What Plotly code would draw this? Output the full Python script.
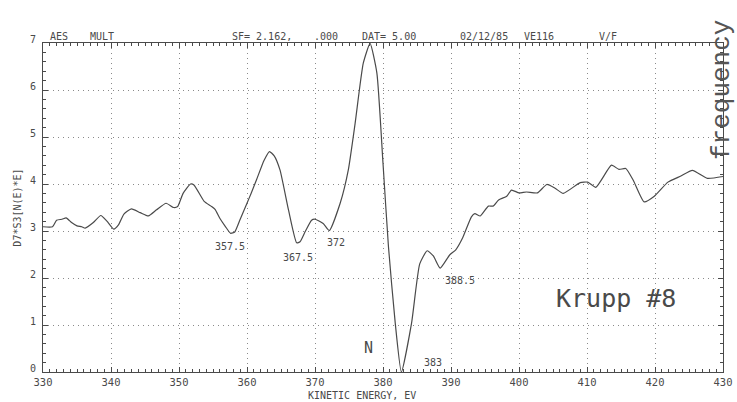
import plotly.graph_objects as go

# Auger spectrum (derivative mode), kinetic energy in eV
energy = [330.0, 331.4, 332.0, 332.8, 333.4, 334.2, 335.0, 335.7, 336.2, 337.4,
          338.5, 339.4, 340.4, 341.1, 341.9, 343.0, 344.3, 345.5, 346.7, 348.1,
          349.2, 349.8, 350.6, 351.7, 352.2, 353.7, 354.8, 355.3, 356.0, 356.8,
          357.6, 358.2, 359.0, 360.0, 360.6, 361.4, 362.5, 363.3, 364.0, 364.85,
          366.1, 367.3, 367.8, 368.6, 369.5, 370.0, 371.2, 372.1, 373.7, 374.9,
          375.9, 377.1, 378.1, 379.1, 380.0, 380.8, 381.8, 382.7, 384.2, 385.4,
          386.5, 387.4, 388.4, 389.8, 390.7, 391.7, 393.0, 393.5, 394.3, 395.5,
          396.2, 397.0, 398.2, 398.9, 400.0, 401.1, 402.7, 404.1, 405.3, 406.5,
          409.0, 410.1, 411.3, 413.6, 414.7, 415.7, 416.8, 418.4, 419.9, 421.9,
          423.8, 425.5, 427.7, 430.0]
signal = [3.09, 3.09, 3.23, 3.25, 3.28, 3.18, 3.11, 3.09, 3.06, 3.18,
          3.33, 3.21, 3.04, 3.13, 3.36, 3.47, 3.39, 3.32, 3.45, 3.59,
          3.50, 3.52, 3.80, 4.00, 3.98, 3.63, 3.52, 3.46, 3.27, 3.10,
          2.95, 2.98, 3.25, 3.59, 3.80, 4.09, 4.50, 4.69, 4.60, 4.30,
          3.45, 2.75, 2.77, 3.00, 3.23, 3.25, 3.16, 3.01, 3.59, 4.30,
          5.29, 6.57, 6.99, 6.36, 4.44, 2.67, 1.04, 0.0, 1.04, 2.30,
          2.58, 2.47, 2.21, 2.49, 2.60, 2.85, 3.30, 3.37, 3.32, 3.53,
          3.53, 3.66, 3.74, 3.87, 3.81, 3.83, 3.81, 3.99, 3.91, 3.80,
          4.03, 4.04, 3.93, 4.40, 4.31, 4.33, 4.08, 3.62, 3.74, 4.04,
          4.17, 4.29, 4.12, 4.16]

# Labelled minima (energy, value) with label offsets in px
minima_energy = [357.5, 367.5, 372, 383, 388.5]
minima_value = [2.95, 2.75, 3.01, 0.0, 2.21]
minima_text = ["357.5", "367.5", "372", "383", "388.5"]
minima_shift = [(0, -13), (0, -15), (7, -12), (30, 10), (19, -12)]

x_ticks = list(range(330, 431, 10))
y_ticks = list(range(0, 8))

ink = "#4a4a4a"
mono = "DejaVu Sans Mono"

fig = go.Figure()
fig.add_trace(go.Scatter(
    x=energy, y=signal, mode="lines",
    line=dict(color=ink, width=1.2, shape="spline", smoothing=0.5),
    hoverinfo="skip", showlegend=False,
))

for e, v, t, (dx, dy) in zip(minima_energy, minima_value, minima_text, minima_shift):
    fig.add_annotation(x=e, y=v, text=t, showarrow=False, xshift=dx, yshift=dy,
                       xanchor="center", yanchor="middle",
                       font=dict(family=mono, size=10, color=ink))

# header line printed above the frame
header = [("AES", 48), ("MULT", 88), ("SF= 2.162,", 230), (".000", 312),
          ("DAT= 5.00", 360), ("02/12/85", 458), ("VE116", 522), ("V/F", 597)]
for txt, px in header:
    fig.add_annotation(x=(px - 43) / 680, y=1, xref="paper", yref="paper",
                       xanchor="left", yanchor="bottom", yshift=-1,
                       text=txt, showarrow=False,
                       font=dict(family=mono, size=10, color=ink))


def paper_xy(px, py):
    return (px - 43) / 680, (372 - py) / 329


def free_text(px, py, text, size, family=mono, color=ink, angle=0):
    x, y = paper_xy(px, py)
    fig.add_annotation(x=x, y=y, xref="paper", yref="paper", xanchor="center",
                       yanchor="middle", text=text, showarrow=False, textangle=angle,
                       font=dict(family=family, size=size, color=color))


free_text(368, 348, "N", 15)
free_text(616, 298, "Krupp #8", 25)
free_text(722, 90, "frequency", 26, family="Liberation Mono", color="#555555", angle=-90)
free_text(362, 395, "KINETIC ENERGY, EV", 10)

axis_common = dict(
    showline=True, linecolor=ink, linewidth=1, mirror="allticks",
    ticks="inside", ticklen=5, tickcolor=ink,
    showgrid=True, gridcolor="#8a8a8a", griddash="1px,4px", gridwidth=1.2,
    zeroline=False, automargin=False,
)

fig.update_xaxes(range=[330, 430], tickvals=x_ticks, ticktext=[str(t) for t in x_ticks],
                 ticklabelstandoff=0,
                 tickfont=dict(family=mono, size=10.5, color=ink),
                 minor=dict(ticks="inside", dtick=1, ticklen=3, tickcolor=ink, showgrid=False),
                 **axis_common)
fig.update_yaxes(range=[0, 7], tickvals=y_ticks, ticktext=[str(t) for t in y_ticks],
                 ticklabelstandoff=4, ticklabelshift=-4,
                 tickfont=dict(family=mono, size=10, color=ink),
                 minor=dict(ticks="inside", dtick=0.2, ticklen=3, tickcolor=ink, showgrid=False),
                 title=dict(text="D7*S3[N(E)*E]", standoff=6,
                            font=dict(family=mono, size=10, color=ink)),
                 **axis_common)

fig.update_layout(
    width=737, height=402,
    margin=dict(l=43, r=14, t=43, b=30),
    paper_bgcolor="white", plot_bgcolor="white",
)

fig.write_html("out.html")
